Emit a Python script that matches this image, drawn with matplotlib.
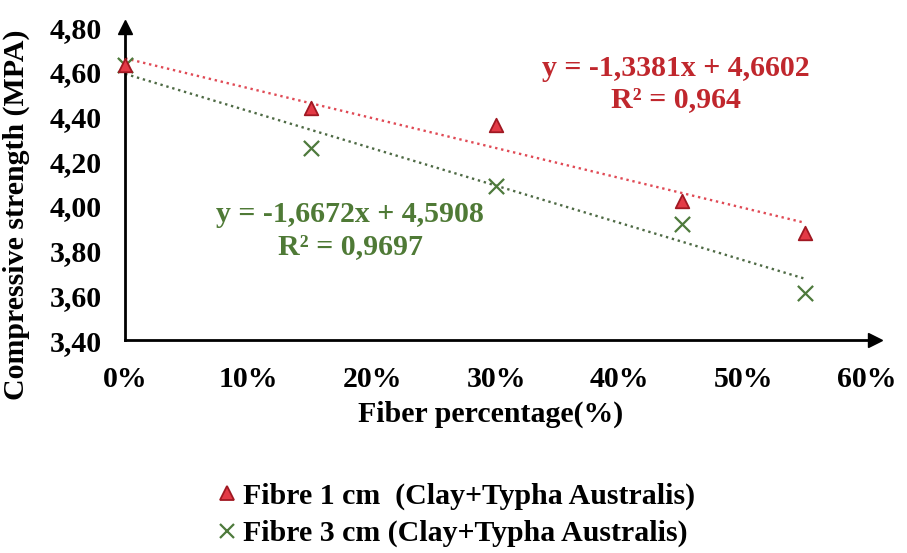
import matplotlib
matplotlib.use("Agg")
import matplotlib.pyplot as plt
import numpy as np
from matplotlib.lines import Line2D
from matplotlib.ticker import FuncFormatter

# Data
fiber_pct = [0.0, 0.15, 0.30, 0.45, 0.55]
fibre_1cm = [4.63, 4.44, 4.36, 4.02, 3.88]
fibre_3cm = [4.63, 4.26, 4.09, 3.92, 3.61]
trend_1cm = (-1.3381, 4.6602)
trend_3cm = (-1.6672, 4.5908)
xticks = [0.0, 0.1, 0.2, 0.3, 0.4, 0.5, 0.6]
yticks = [3.40, 3.60, 3.80, 4.00, 4.20, 4.40, 4.60, 4.80]
label_1cm = "Fibre 1 cm  (Clay+Typha Australis)"
label_3cm = "Fibre 3 cm (Clay+Typha Australis)"

RED_FILL = "#e33a46"
RED_EDGE = "#a01822"
GREEN = "#4e7a3c"
TXT_RED = "#c0272d"
TXT_GREEN = "#4f7a36"
FS = 21.5

plt.rcParams["font.family"] = ["Liberation Serif", "DejaVu Serif"]
plt.rcParams["font.weight"] = "bold"

fig = plt.figure(figsize=(9.07, 5.53), dpi=100)
ax = fig.add_axes([0.138, 0.385, 0.827, 0.566])

xs = np.array([fiber_pct[0], fiber_pct[-1]])
ax.plot(xs, trend_1cm[0] * xs + trend_1cm[1], linestyle=(0, (1, 1.6)), color="#e04a55", lw=1.7, zorder=2)
ax.plot(xs, trend_3cm[0] * xs + trend_3cm[1], linestyle=(0, (1, 1.6)), color="#4e6a44", lw=1.7, zorder=2)

ax.scatter(fiber_pct, fibre_3cm, marker="x", s=120, color=GREEN, linewidths=1.6, zorder=3, clip_on=False)
ax.scatter(fiber_pct, fibre_1cm, marker="^", s=95, facecolor=RED_FILL, edgecolor=RED_EDGE,
           linewidths=1.3, zorder=4, clip_on=False)

ax.set_xlim(0, 0.6065)
ax.set_ylim(3.40, 4.80)
ax.set_xticks(xticks)
ax.set_yticks(yticks)
ax.xaxis.set_major_formatter(FuncFormatter(lambda v, p: f"{v*100:.0f}%"))
ax.yaxis.set_major_formatter(FuncFormatter(lambda v, p: f"{v:.2f}".replace(".", ",")))
ax.tick_params(axis="both", length=0, labelsize=FS)
ax.tick_params(axis="x", pad=19)
ax.tick_params(axis="y", pad=17)
for s in ["top", "right"]:
    ax.spines[s].set_visible(False)
for s in ["left", "bottom"]:
    ax.spines[s].set_linewidth(2)
ax.plot(1, 0, ">k", markersize=10, transform=ax.transAxes, clip_on=False)
ax.plot(0, 1, "^k", markersize=10, transform=ax.transAxes, clip_on=False)

ax.set_xlabel("Fiber percentage(%)", fontsize=FS, fontweight="bold")
ax.xaxis.set_label_coords(0.487, -0.195)
ax.set_ylabel("Compressive strength (MPA)", fontsize=FS, fontweight="bold")
ax.yaxis.set_label_coords(-0.127, 0.40)

ax.text(0.445, 4.545, "y = -1,3381x + 4,6602\nR² = 0,964", color=TXT_RED, fontsize=FS,
        fontweight="bold", ha="center", va="center", linespacing=1.2)
ax.text(0.182, 3.89, "y = -1,6672x + 4,5908\nR² = 0,9697", color=TXT_GREEN, fontsize=FS,
        fontweight="bold", ha="center", va="center", linespacing=1.2)

handles = [
    Line2D([], [], marker="^", linestyle="none", markersize=10, markerfacecolor=RED_FILL,
           markeredgecolor=RED_EDGE, markeredgewidth=1.3),
    Line2D([], [], marker="x", linestyle="none", markersize=10, color=GREEN, markeredgewidth=1.6),
]
fig.legend(handles, [label_1cm, label_3cm], loc="upper left", bbox_to_anchor=(0.237, 0.128),
           frameon=False, fontsize=21.5, handlelength=0.8, handletextpad=0.15, labelspacing=0.35,
           borderaxespad=0, borderpad=0)

fig.savefig("out.png", dpi=100)
